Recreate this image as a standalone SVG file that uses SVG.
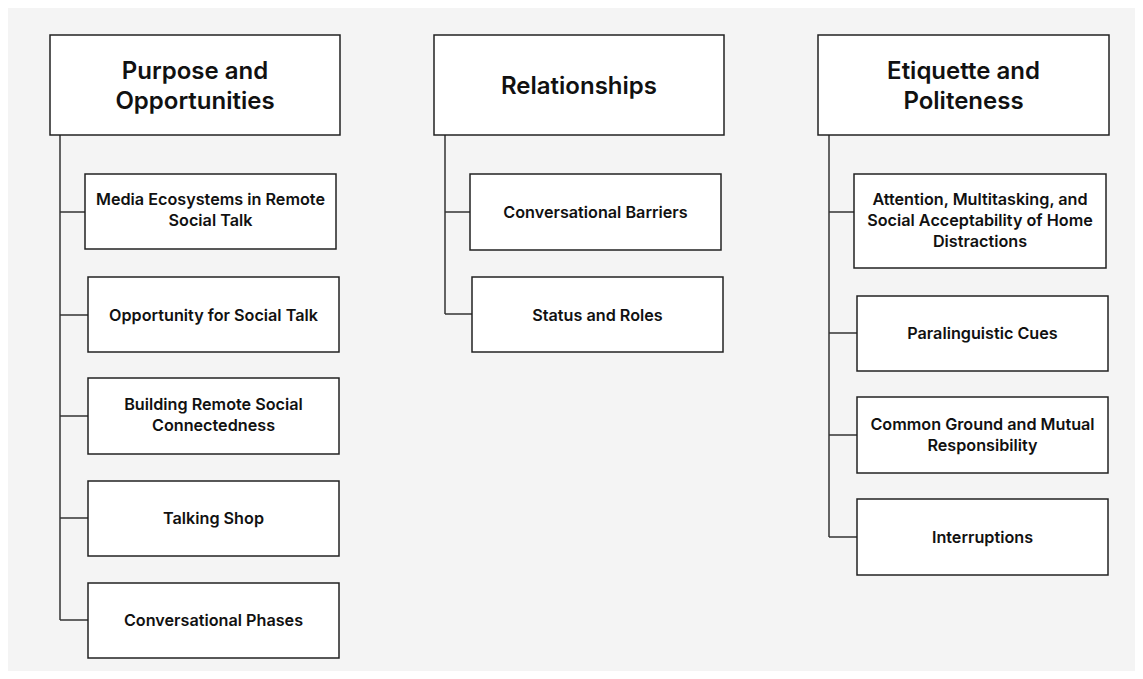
<svg xmlns="http://www.w3.org/2000/svg" width="1143" height="679" viewBox="0 0 1143 679">
<style>
.bg{fill:#f4f4f4}
.box{fill:#ffffff;stroke:#222;stroke-width:1.5}
.ln{fill:none;stroke:#333;stroke-width:1.5}
.h{font-family:Inter,"Liberation Sans",sans-serif;font-weight:600;font-size:24px;fill:#111;text-anchor:middle}
.t{font-family:Inter,"Liberation Sans",sans-serif;font-weight:600;font-size:16.2px;fill:#111;text-anchor:middle}
</style>
<rect x="0" y="0" width="1143" height="679" fill="#ffffff"/>
<rect class="bg" x="8" y="8" width="1127" height="663"/>
<g id="connectors">
<path class="ln" d="M60 135V620M60 212H85M60 315H88M60 416H88M60 518H88M60 620H88"/>
<path class="ln" d="M445 135V314M445 212H470M445 314H472"/>
<path class="ln" d="M829 135V537M829 212H854M829 333H857M829 435H857M829 537H857"/>
</g>
<g id="purpose">
<rect class="box" x="50" y="35" width="290" height="100"/>
<text class="h" x="195" y="79">Purpose and</text>
<text class="h" x="195" y="109">Opportunities</text>
</g>
<g id="media">
<rect class="box" x="85" y="174" width="251" height="75"/>
<text class="t" x="210.5" y="205">Media Ecosystems in Remote</text>
<text class="t" x="210.5" y="226">Social Talk</text>
</g>
<g id="opportunity">
<rect class="box" x="88" y="277" width="251" height="75"/>
<text class="t" x="213.5" y="321">Opportunity for Social Talk</text>
</g>
<g id="building">
<rect class="box" x="88" y="378" width="251" height="76"/>
<text class="t" x="213.5" y="410">Building Remote Social</text>
<text class="t" x="213.5" y="431">Connectedness</text>
</g>
<g id="talking">
<rect class="box" x="88" y="481" width="251" height="75"/>
<text class="t" x="213.5" y="524">Talking Shop</text>
</g>
<g id="phases">
<rect class="box" x="88" y="583" width="251" height="75"/>
<text class="t" x="213.5" y="626">Conversational Phases</text>
</g>
<g id="relationships">
<rect class="box" x="434" y="35" width="290" height="100"/>
<text class="h" x="579" y="94">Relationships</text>
</g>
<g id="barriers">
<rect class="box" x="470" y="174" width="251" height="76"/>
<text class="t" x="595.5" y="218">Conversational Barriers</text>
</g>
<g id="status">
<rect class="box" x="472" y="277" width="251" height="75"/>
<text class="t" x="597.5" y="321">Status and Roles</text>
</g>
<g id="etiquette">
<rect class="box" x="818" y="35" width="291" height="100"/>
<text class="h" x="963.5" y="79">Etiquette and</text>
<text class="h" x="963.5" y="109">Politeness</text>
</g>
<g id="attention">
<rect class="box" x="854" y="174" width="252" height="94"/>
<text class="t" x="980" y="205">Attention, Multitasking, and</text>
<text class="t" x="980" y="226">Social Acceptability of Home</text>
<text class="t" x="980" y="247">Distractions</text>
</g>
<g id="paralinguistic">
<rect class="box" x="857" y="296" width="251" height="75"/>
<text class="t" x="982.5" y="339">Paralinguistic Cues</text>
</g>
<g id="common">
<rect class="box" x="857" y="397" width="251" height="76"/>
<text class="t" x="982.5" y="430">Common Ground and Mutual</text>
<text class="t" x="982.5" y="451">Responsibility</text>
</g>
<g id="interruptions">
<rect class="box" x="857" y="499" width="251" height="76"/>
<text class="t" x="982.5" y="543">Interruptions</text>
</g>
</svg>
